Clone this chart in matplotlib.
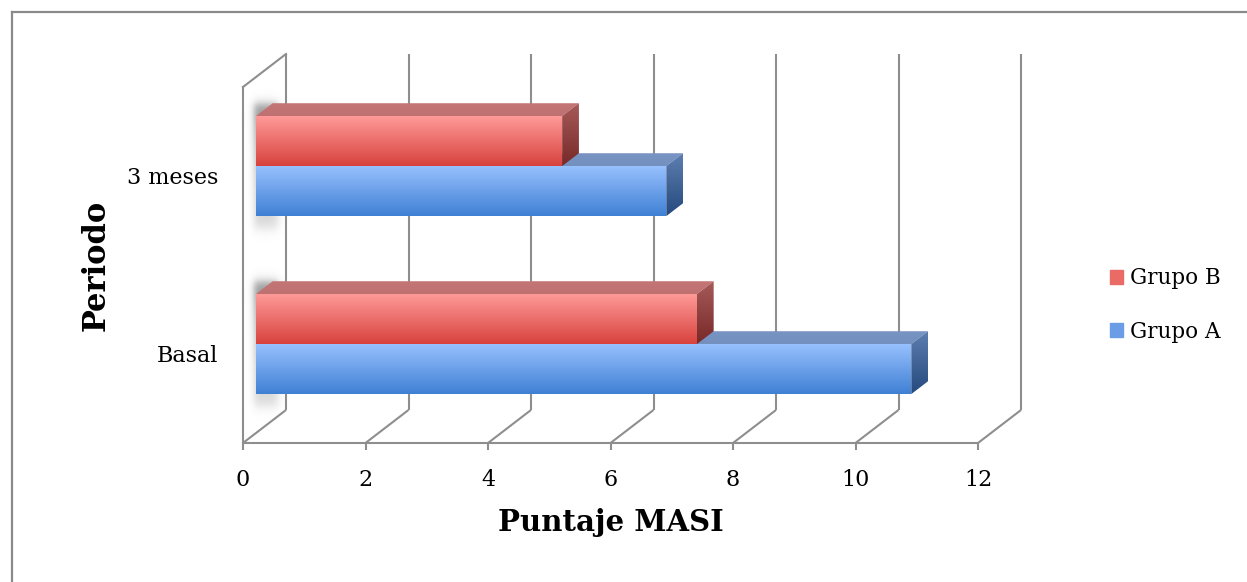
import numpy as np
import matplotlib
matplotlib.use("Agg")
import matplotlib.pyplot as plt
from matplotlib.patches import Polygon, Patch
from matplotlib.lines import Line2D
from matplotlib.colors import to_rgb

# ---- data -------------------------------------------------------------
categories = ["Basal", "3 meses"]
grupo_a = [10.7, 6.7]
grupo_b = [7.2, 5.0]
series_labels = ["Grupo A", "Grupo B"]
x_ticks = [0, 2, 4, 6, 8, 10, 12]
x_label = "Puntaje MASI"
y_label = "Periodo"

# ---- figure & front plane of the 3-D box ------------------------------
W, H, DPI = 1247, 582, 100
fig = plt.figure(figsize=(W / DPI, H / DPI), dpi=DPI)
fig.patch.set_facecolor("white")

x0_px, x1_px = 243, 978
floor_px, top_px = 443, 87
ax = fig.add_axes([x0_px / W, 1 - floor_px / H,
                   (x1_px - x0_px) / W, (floor_px - top_px) / H])
XMAX, YMAX = 12, 2
px_per_x = (x1_px - x0_px) / XMAX
px_per_y = (floor_px - top_px) / YMAX

# oblique depth offset of the back wall, in data units
DX = 43 / px_per_x
DY = 33 / px_per_y
Z1, Z2 = 0.30, 0.69            # bar front / back depth
BAR_H = 50 / px_per_y          # bar thickness

GRID = "#8e8e8e"
LW = 1.5
SERIF = "DejaVu Serif"

def proj(x, y, z):
    return (x + z * DX, y + z * DY)

def gradient_face(verts, c_top, c_bot, zorder):
    poly = Polygon(verts, closed=True, facecolor="none", edgecolor="none",
                   zorder=zorder)
    ax.add_patch(poly)
    xs = [v[0] for v in verts]
    ys = [v[1] for v in verts]
    t = np.linspace(0, 1, 256)[:, None]
    a, b = np.array(to_rgb(c_top)), np.array(to_rgb(c_bot))
    img = (a[None, None, :] * (1 - t[..., None]) + b[None, None, :] * t[..., None])
    im = ax.imshow(img, extent=(min(xs), max(xs), min(ys), max(ys)),
                   origin="upper", aspect="auto", interpolation="bilinear",
                   zorder=zorder)
    im.set_clip_path(poly)

# ---- box grid lines ---------------------------------------------------
for xt in x_ticks:
    # floor diagonals
    ax.plot([xt, xt + DX], [0, DY], color=GRID, lw=LW, clip_on=False, zorder=1,
            solid_capstyle="butt")
    # back wall verticals
    ax.plot([xt + DX, xt + DX], [DY, YMAX + DY], color=GRID, lw=LW,
            clip_on=False, zorder=1, solid_capstyle="butt")
# left wall top edge
ax.plot([0, DX], [YMAX, YMAX + DY], color=GRID, lw=LW, clip_on=False, zorder=1)

# ---- soft shadow of the bars on the left wall -------------------------
nx, ny = 120, 500
gx = np.linspace(0, DX, nx)
gy = np.linspace(0, YMAX + DY, ny)
XX, YY = np.meshgrid(gx, gy)
ZZ = XX / DX
XP = XX * px_per_x                    # pixels from the front wall edge
YP = YY * px_per_y                    # pixels above the floor
def soft(d, s):
    return 0.5 * (1 + np.tanh(d / s))
shade = np.zeros_like(XX)
for i in range(len(categories)):
    c = i + 0.5
    top_edge = (c + BAR_H) * px_per_y + 22
    bot_edge = (c - BAR_H) * px_per_y - 2
    part = soft(XP - 11, 4) * soft(35 - XP, 5) \
        * soft(YP - bot_edge, 7) * soft(top_edge - YP, 6)
    # darker toward the top edge of the bar
    part *= 0.35 + 0.65 * np.clip((YP - bot_edge) / (top_edge - bot_edge), 0, 1) ** 2
    shade = np.maximum(shade, part)
rgba = np.zeros((ny, nx, 4))
rgba[..., :3] = 0.42
rgba[..., 3] = 0.75 * shade
ax.imshow(rgba, extent=(0, DX, 0, YMAX + DY), origin="lower", aspect="auto",
          interpolation="bilinear", zorder=2)

# ---- 3-D bars ---------------------------------------------------------
styles = {
    "Grupo A": dict(front=("#97c0fe", "#3f80d4"), top=("#7894c2", "#7390bf"),
                    side=("#5d7eb0", "#264a7e")),
    "Grupo B": dict(front=("#fe9a98", "#d8423d"), top=("#c47676", "#bf7070"),
                    side=("#a55b59", "#782928")),
}

def draw_bar(value, y_lo, y_hi, st, zorder):
    fl = proj(0, y_lo, Z1); fr = proj(value, y_lo, Z1)
    tl = proj(0, y_hi, Z1); tr = proj(value, y_hi, Z1)
    btl = proj(0, y_hi, Z2); btr = proj(value, y_hi, Z2)
    bbr = proj(value, y_lo, Z2)
    gradient_face([tl, tr, btr, btl], *st["top"], zorder)
    gradient_face([fr, tr, btr, bbr], *st["side"], zorder)
    gradient_face([fl, fr, tr, tl], *st["front"], zorder + 0.1)

for i, cat in enumerate(categories):
    c = i + 0.5
    draw_bar(grupo_a[i], c - BAR_H, c, styles["Grupo A"], 3 + i)
    draw_bar(grupo_b[i], c, c + BAR_H, styles["Grupo B"], 3.5 + i)

# ---- axes, ticks and labels -------------------------------------------
ax.set_xlim(0, XMAX)
ax.set_ylim(0, YMAX)
for side in ("top", "right"):
    ax.spines[side].set_visible(False)
for side in ("bottom", "left"):
    ax.spines[side].set_color(GRID)
    ax.spines[side].set_linewidth(LW)
    ax.spines[side].set_zorder(1)
ax.set_facecolor("none")

ax.set_xticks(x_ticks)
ax.set_xticklabels([str(t) for t in x_ticks], fontfamily=SERIF, fontsize=16)
ax.tick_params(axis="x", direction="out", length=5, width=LW, color=GRID,
               pad=14, labelcolor="black")
ax.set_yticks([i + 0.5 for i in range(len(categories))])
ax.set_yticklabels(categories, fontfamily=SERIF, fontsize=16)
ax.tick_params(axis="y", length=0, pad=18, labelcolor="black")

ax.set_xlabel(x_label, fontfamily=SERIF, fontsize=21, fontweight="bold",
              labelpad=12)
ax.set_ylabel(y_label, fontfamily=SERIF, fontsize=22, fontweight="bold",
              labelpad=11)

# ---- legend -----------------------------------------------------------
handles = [Patch(facecolor="#ea6a66", edgecolor="#ea6a66", label=series_labels[1]),
           Patch(facecolor="#6b9de6", edgecolor="#6b9de6", label=series_labels[0])]
fig.legend(handles=handles, loc="center left",
           bbox_to_anchor=(1110 / W, 1 - 305 / H), frameon=False,
           prop=dict(family=SERIF, size=15.5), handlelength=0.6,
           handleheight=0.6, handletextpad=0.35, labelspacing=1.45,
           borderpad=0, borderaxespad=0)

# ---- outer chart frame (left and top edges; the rest runs off the page) -
fx, fy = 11.5 / W, 1 - 12 / H
for xs, ys in (([fx, fx], [0, fy]), ([fx, 1.0], [fy, fy])):
    fig.add_artist(Line2D(xs, ys, transform=fig.transFigure,
                          color="#8a8a8a", linewidth=1.6))

fig.savefig("out.png", dpi=DPI)
